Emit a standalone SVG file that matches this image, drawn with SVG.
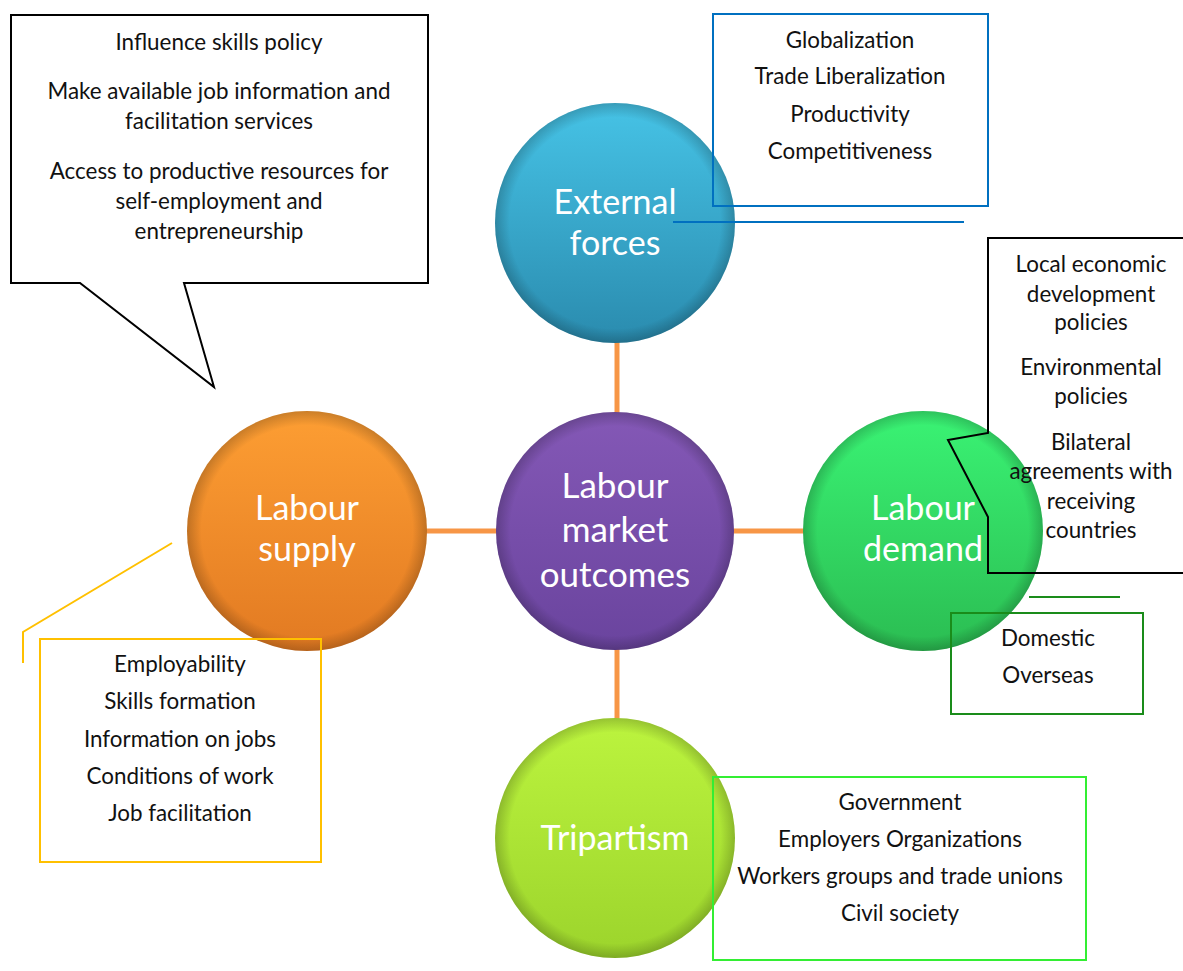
<svg xmlns="http://www.w3.org/2000/svg" width="1183" height="971" viewBox="0 0 1183 971">
<style>
.ct{font-family:Lato,"Open Sans","Liberation Sans",sans-serif;font-size:34px;fill:#ffffff;text-anchor:middle}
.bt{font-family:Lato,"Open Sans","Liberation Sans",sans-serif;font-size:22.4px;fill:#111111;text-anchor:middle}
.conn{stroke:#f79646;stroke-width:5;fill:none}
.box{fill:none;stroke-width:2}
</style>
<defs>
<linearGradient id="gBlue" x1="0" y1="0" x2="0" y2="1"><stop offset="0" stop-color="#46c3e6"/><stop offset="1" stop-color="#2a8bae"/></linearGradient>
<linearGradient id="gPurple" x1="0" y1="0" x2="0" y2="1"><stop offset="0" stop-color="#8458b6"/><stop offset="1" stop-color="#6a449e"/></linearGradient>
<linearGradient id="gOrange" x1="0" y1="0" x2="0" y2="1"><stop offset="0" stop-color="#fd9e33"/><stop offset="1" stop-color="#e27a22"/></linearGradient>
<linearGradient id="gGreen" x1="0" y1="0" x2="0" y2="1"><stop offset="0" stop-color="#3af374"/><stop offset="1" stop-color="#2bbd52"/></linearGradient>
<linearGradient id="gLime" x1="0" y1="0" x2="0" y2="1"><stop offset="0" stop-color="#bcf43e"/><stop offset="1" stop-color="#9cd42c"/></linearGradient>
<radialGradient id="gEdge" cx="0.5" cy="0.5" r="0.5"><stop offset="0.88" stop-color="#000" stop-opacity="0"/><stop offset="1" stop-color="#000" stop-opacity="0.2"/></radialGradient>
</defs>
<rect width="1183" height="971" fill="#ffffff"/>
<g id="connectors">
<line class="conn" x1="617" y1="340" x2="617" y2="415"/>
<line class="conn" x1="425" y1="531" x2="497" y2="531"/>
<line class="conn" x1="732" y1="531" x2="805" y2="531"/>
<line class="conn" x1="617" y1="647" x2="617" y2="720"/>
</g>
<g id="external-forces">
<circle cx="615" cy="223" r="120" fill="url(#gBlue)"/>
<circle cx="615" cy="223" r="120" fill="url(#gEdge)"/>
<text class="ct" x="615" y="214">External</text>
<text class="ct" x="615" y="255">forces</text>
</g>
<g id="labour-market-outcomes">
<circle cx="615" cy="531" r="119" fill="url(#gPurple)"/>
<circle cx="615" cy="531" r="119" fill="url(#gEdge)"/>
<text class="ct" x="615" y="498" style="font-size:35px">Labour</text>
<text class="ct" x="615" y="542" style="font-size:35px">market</text>
<text class="ct" x="615" y="587" style="font-size:35px">outcomes</text>
</g>
<g id="labour-supply">
<circle cx="307" cy="531" r="120" fill="url(#gOrange)"/>
<circle cx="307" cy="531" r="120" fill="url(#gEdge)"/>
<text class="ct" x="307" y="520">Labour</text>
<text class="ct" x="307" y="561">supply</text>
</g>
<g id="labour-demand">
<circle cx="923" cy="531" r="120" fill="url(#gGreen)"/>
<circle cx="923" cy="531" r="120" fill="url(#gEdge)"/>
<text class="ct" x="923" y="520">Labour</text>
<text class="ct" x="923" y="561">demand</text>
</g>
<g id="tripartism">
<circle cx="615" cy="838" r="120" fill="url(#gLime)"/>
<circle cx="615" cy="838" r="120" fill="url(#gEdge)"/>
<text class="ct" x="615" y="850">Tripartism</text>
</g>
<g id="callout-supply-policy">
<path d="M11 15 H428 V283 H184 L214 387 L80 283 H11 Z" fill="#ffffff" stroke="#000000" stroke-width="2"/>
<text class="bt" x="219" y="50">Influence skills policy</text>
<text class="bt" x="219" y="99">Make available job information and</text>
<text class="bt" x="219" y="129">facilitation services</text>
<text class="bt" x="219" y="179">Access to productive resources for</text>
<text class="bt" x="219" y="209">self-employment and</text>
<text class="bt" x="219" y="239">entrepreneurship</text>
</g>
<g id="box-external">
<rect class="box" x="713" y="14" width="275" height="192" stroke="#0070c0"/>
<line x1="673" y1="222" x2="964" y2="222" stroke="#0070c0" stroke-width="2"/>
<text class="bt" x="850" y="48">Globalization</text>
<text class="bt" x="850" y="84">Trade Liberalization</text>
<text class="bt" x="850" y="122">Productivity</text>
<text class="bt" x="850" y="159">Competitiveness</text>
</g>
<g id="callout-demand-policy">
<path d="M1190 238 H988 V433 L948 440 L988 517 V573 H1190" fill="none" stroke="#000000" stroke-width="2"/>
<text class="bt" x="1091" y="272">Local economic</text>
<text class="bt" x="1091" y="302">development</text>
<text class="bt" x="1091" y="330">policies</text>
<text class="bt" x="1091" y="375">Environmental</text>
<text class="bt" x="1091" y="404">policies</text>
<text class="bt" x="1091" y="450">Bilateral</text>
<text class="bt" x="1091" y="479">agreements with</text>
<text class="bt" x="1091" y="509">receiving</text>
<text class="bt" x="1091" y="538">countries</text>
</g>
<g id="box-demand">
<line x1="1029" y1="597" x2="1120" y2="597" stroke="#1a8c1a" stroke-width="2"/>
<rect class="box" x="951" y="613" width="192" height="101" stroke="#1a8c1a"/>
<text class="bt" x="1048" y="646">Domestic</text>
<text class="bt" x="1048" y="683">Overseas</text>
</g>
<g id="box-tripartism">
<rect class="box" x="713" y="777" width="373" height="183" stroke="#33ee33"/>
<text class="bt" x="900" y="810">Government</text>
<text class="bt" x="900" y="847">Employers Organizations</text>
<text class="bt" x="900" y="884">Workers groups and trade unions</text>
<text class="bt" x="900" y="921">Civil society</text>
</g>
<g id="box-supply">
<polyline points="172,543 23,632 23,663" fill="none" stroke="#ffc000" stroke-width="2"/>
<rect class="box" x="40" y="639" width="281" height="223" stroke="#ffc000"/>
<text class="bt" x="180" y="672">Employability</text>
<text class="bt" x="180" y="709">Skills formation</text>
<text class="bt" x="180" y="747">Information on jobs</text>
<text class="bt" x="180" y="784">Conditions of work</text>
<text class="bt" x="180" y="821">Job facilitation</text>
</g>
</svg>
